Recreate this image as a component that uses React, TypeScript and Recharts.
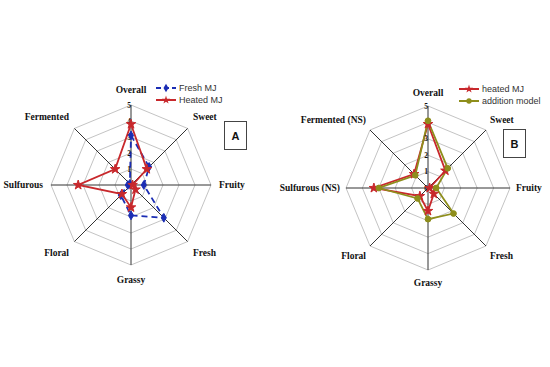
import React from 'react';
import {
    RadarChart,
    Radar,
    PolarGrid,
    PolarAngleAxis,
    PolarRadiusAxis,
    Legend,
    Symbols
} from 'recharts';

const attributesA = ['Overall', 'Sweet', 'Fruity', 'Fresh', 'Grassy', 'Floral', 'Sulfurous', 'Fermented'];
const freshMJ = [3.1, 1.6, 0.8, 2.9, 1.9, 0.9, 0.2, 0.1];
const heatedMJA = [3.8, 1.4, 0.1, 0.4, 1.4, 0.8, 3.3, 1.4];

const attributesB = ['Overall', 'Sweet', 'Fruity', 'Fresh', 'Grassy', 'Floral', 'Sulfurous (NS)', 'Fermented (NS)'];
const heatedMJB = [3.9, 1.5, 0.1, 0.5, 1.4, 0.7, 3.3, 1.2];
const additionModel = [4.1, 1.7, 0.5, 2.2, 1.9, 0.9, 3.0, 1.1];

const radiusTicks = [0, 1, 2, 3, 4, 5];

const dataA = attributesA.map((name, i) => ({ name, fresh: freshMJ[i], heated: heatedMJA[i] }));
const dataB = attributesB.map((name, i) => ({ name, heated: heatedMJB[i], addition: additionModel[i] }));

const BLUE = '#1b2db4';
const RED = '#c8282c';
const OLIVE = '#8e8e1c';
const serif = "'Liberation Serif', 'Times New Roman', serif";
const sans = "'Liberation Sans', Arial, sans-serif";

const makeDot = (type: any, color: string, size: number) => (props: any) => (
    <Symbols key={`${type}-${props.index}`} cx={props.cx} cy={props.cy} type={type} size={size} fill={color} stroke={color} />
);

const makeAngleTick = (cx: number, cy: number, rv: number) => (props: any) => {
    const a = (props.payload.coordinate * Math.PI) / 180;
    const c = Math.cos(a);
    const s = -Math.sin(a);
    let x = cx;
    let y = cy;
    let anchor: any = 'middle';
    if (Math.abs(c) < 0.1) {
        y = cy + Math.sign(s) * rv;
    } else if (Math.abs(s) < 0.1) {
        x = cx + Math.sign(c) * 88;
        anchor = c > 0 ? 'start' : 'end';
    } else {
        x = cx + Math.sign(c) * 62;
        y = cy + Math.sign(s) * 68;
        anchor = c > 0 ? 'start' : 'end';
    }
    return (
        <text x={x} y={y} textAnchor={anchor} dominantBaseline="central"
            fontFamily={serif} fontWeight="bold" fontSize={9.5} fill="#111">
            {props.payload.value}
        </text>
    );
};

const radiusTick = (props: any) => (
    <text x={props.x - 2} y={props.y} textAnchor="middle" dominantBaseline="central"
        fontFamily={serif} fontWeight="bold" fontSize={7.5} fill="#111">
        {props.payload.value}
    </text>
);

const legendContent = (items: { label: string; color: string; type: any; dashed?: boolean }[]) => () => (
    <div style={{ fontFamily: sans, fontSize: 9, color: '#333', lineHeight: '12px' }}>
        {items.map((it) => (
            <div key={it.label} style={{ display: 'flex', alignItems: 'center' }}>
                <svg width={20} height={10} style={{ marginRight: 3 }}>
                    <line x1={0} y1={5} x2={20} y2={5} stroke={it.color} strokeWidth={2}
                        strokeDasharray={it.dashed ? '5 3' : undefined} />
                    <Symbols cx={10} cy={5} type={it.type} size={22} fill={it.color} />
                </svg>
                <span>{it.label}</span>
            </div>
        ))}
    </div>
);

const PanelBox = ({ letter, left, top }: { letter: string; left: number; top: number }) => (
    <div style={{
        position: 'absolute', left, top, width: 21, height: 27, border: '1px solid #444',
        display: 'flex', alignItems: 'center', justifyContent: 'center',
        fontFamily: sans, fontWeight: 'bold', fontSize: 11, color: '#111', background: '#fff'
    }}>{letter}</div>
);

export default function App() {
    return (
        <div style={{ position: 'absolute', left: 0, top: 0, width: 550, height: 367, background: '#fff' }}>
            <div style={{ position: 'absolute', left: 0, top: 0 }}>
                <RadarChart width={275} height={367} data={dataA} cx={131} cy={185} outerRadius={80}
                    margin={{ top: 0, right: 0, bottom: 0, left: 0 }}>
                    <PolarGrid gridType="polygon" radialLines={false} stroke="#c4c4c4" />
                    <PolarGrid gridType="polygon" polarRadius={[0]} stroke="#333" />
                    <PolarAngleAxis dataKey="name" axisLine={false} tickLine={false} tick={makeAngleTick(131, 185, 95)} />
                    <PolarRadiusAxis angle={90} domain={[0, 5]} ticks={radiusTicks as any} tickCount={6}
                        axisLine={false} tick={radiusTick} />
                    <Radar dataKey="fresh" name="Fresh MJ" stroke={BLUE} strokeWidth={1.8} strokeDasharray="6 4"
                        fill="none" fillOpacity={0} dot={makeDot('diamond', BLUE, 22)} isAnimationActive={false} />
                    <Radar dataKey="heated" name="Heated MJ" stroke={RED} strokeWidth={1.8}
                        fill="none" fillOpacity={0} dot={makeDot('star', RED, 28)} isAnimationActive={false} />
                    <Legend wrapperStyle={{ top: 82, left: 156, width: 90 }}
                        content={legendContent([
                            { label: 'Fresh MJ', color: BLUE, type: 'diamond', dashed: true },
                            { label: 'Heated MJ', color: RED, type: 'star' }
                        ])} />
                </RadarChart>
            </div>
            <PanelBox letter="A" left={224} top={121} />
            <div style={{ position: 'absolute', left: 275, top: 0 }}>
                <RadarChart width={275} height={367} data={dataB} cx={153} cy={188} outerRadius={82}
                    margin={{ top: 0, right: 0, bottom: 0, left: 0 }}>
                    <PolarGrid gridType="polygon" radialLines={false} stroke="#c4c4c4" />
                    <PolarGrid gridType="polygon" polarRadius={[0]} stroke="#333" />
                    <PolarAngleAxis dataKey="name" axisLine={false} tickLine={false} tick={makeAngleTick(153, 188, 95)} />
                    <PolarRadiusAxis angle={90} domain={[0, 5]} ticks={radiusTicks as any} tickCount={6}
                        axisLine={false} tick={radiusTick} />
                    <Radar dataKey="heated" name="heated MJ" stroke={RED} strokeWidth={1.8}
                        fill="none" fillOpacity={0} dot={makeDot('star', RED, 28)} isAnimationActive={false} />
                    <Radar dataKey="addition" name="addition model" stroke={OLIVE} strokeWidth={1.8}
                        fill="none" fillOpacity={0} dot={makeDot('circle', OLIVE, 26)} isAnimationActive={false} />
                    <Legend wrapperStyle={{ top: 83, left: 184, width: 90 }}
                        content={legendContent([
                            { label: 'heated MJ', color: RED, type: 'star' },
                            { label: 'addition model', color: OLIVE, type: 'circle' }
                        ])} />
                </RadarChart>
            </div>
            <PanelBox letter="B" left={503} top={129} />
        </div>
    );
}
